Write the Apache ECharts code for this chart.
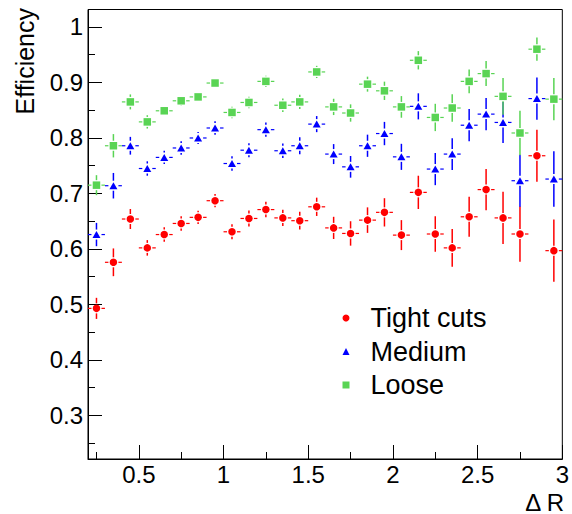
<!DOCTYPE html>
<html>
<head>
<meta charset="utf-8">
<script src="https://cdn.jsdelivr.net/npm/echarts@6/dist/echarts.min.js"></script>
<style>
  html, body { margin: 0; padding: 0; background: #fff; }
  #chart { width: 572px; height: 514px; }
</style>
</head>
<body>
<div id="chart"></div>
<script>
// Bin centres in ΔR (bins are 0.1 wide)
const deltaR = [0.25, 0.35, 0.45, 0.55, 0.65, 0.75, 0.85, 0.95, 1.05, 1.15, 1.25, 1.35, 1.45, 1.55,
                1.65, 1.75, 1.85, 1.95, 2.05, 2.15, 2.25, 2.35, 2.45, 2.55, 2.65, 2.75, 2.85, 2.95];
const binHalfWidth = 0.05;

// Efficiency and its uncertainty for each selection
const tightEff = [0.493, 0.576, 0.654, 0.602, 0.626, 0.646, 0.657, 0.687, 0.631, 0.655, 0.671, 0.656, 0.651, 0.676,
                  0.638, 0.628, 0.652, 0.666, 0.625, 0.702, 0.627, 0.602, 0.658, 0.707, 0.656, 0.627, 0.768, 0.597];
const tightErr = [0.019, 0.025, 0.018, 0.014, 0.013, 0.013, 0.012, 0.012, 0.0135, 0.0145, 0.014, 0.0145, 0.016, 0.0165,
                  0.020, 0.022, 0.023, 0.0255, 0.027, 0.030, 0.032, 0.034, 0.036, 0.037, 0.047, 0.050, 0.047, 0.056];

const mediumEff = [0.626, 0.714, 0.786, 0.745, 0.765, 0.782, 0.800, 0.818, 0.754, 0.778, 0.815, 0.777, 0.786, 0.825,
                   0.771, 0.748, 0.786, 0.808, 0.766, 0.857, 0.744, 0.771, 0.823, 0.843, 0.828, 0.723, 0.871, 0.726];
const mediumErr = [0.021, 0.023, 0.016, 0.013, 0.012, 0.012, 0.011, 0.012, 0.013, 0.0125, 0.013, 0.013, 0.0155, 0.0145,
                   0.018, 0.0195, 0.020, 0.021, 0.0235, 0.0235, 0.029, 0.0285, 0.029, 0.029, 0.037, 0.047, 0.038, 0.050];

const looseEff = [0.715, 0.786, 0.865, 0.829, 0.849, 0.867, 0.874, 0.899, 0.846, 0.864, 0.902, 0.859, 0.865, 0.919,
                  0.856, 0.845, 0.897, 0.885, 0.856, 0.940, 0.837, 0.854, 0.902, 0.916, 0.875, 0.809, 0.960, 0.870];
const looseErr = [0.018, 0.021, 0.0135, 0.012, 0.009, 0.0093, 0.0075, 0.009, 0.0105, 0.0105, 0.010, 0.012, 0.013, 0.011,
                  0.0147, 0.0156, 0.0135, 0.0165, 0.0195, 0.0165, 0.0246, 0.0246, 0.0216, 0.0225, 0.033, 0.040, 0.021, 0.038];

// Axis ticks
const xMajorTicks = [0.5, 1, 1.5, 2, 2.5, 3];
const xMinorTicks = [0.25, 0.75, 1.25, 1.75, 2.25, 2.75];
const yMajorTicks = [0.3, 0.4, 0.5, 0.6, 0.7, 0.8, 0.9, 1];
const yMinorTicks = [0.25, 0.35, 0.45, 0.55, 0.65, 0.75, 0.85, 0.95];

const X_MIN = 0.2, X_MAX = 3;
const Y_MIN = 0.2216, Y_MAX = 1.0315;

const FONT = '"Liberation Sans", Arial, Helvetica, sans-serif';

const selections = [
  { name: 'Tight cuts', eff: tightEff, err: tightErr, color: '#ff0000', symbol: 'circle', size: 7.5 },
  { name: 'Medium',     eff: mediumEff, err: mediumErr, color: '#0000ff', symbol: 'triangle', size: [8, 7] },
  { name: 'Loose',      eff: looseEff, err: looseErr, color: '#59d454', symbol: 'rect', size: 7.5 }
];

// Error bars drawn outside the marker, as in a HEP-style histogram
function errorBarRenderer(color) {
  const gap = 5;
  return function (params, api) {
    const x = api.value(0), y = api.value(1), e = api.value(2);
    const c = api.coord([x, y]);
    const top = api.coord([x, y + e]);
    const bot = api.coord([x, y - e]);
    const lft = api.coord([x - binHalfWidth, y]);
    const rgt = api.coord([x + binHalfWidth, y]);
    const children = [];
    const vStyle = { stroke: color, lineWidth: 1.5 };
    const hStyle = { stroke: color, lineWidth: 1.2 };
    if (c[1] - top[1] > gap) {
      children.push({ type: 'line', shape: { x1: c[0], y1: c[1] - gap, x2: c[0], y2: top[1] }, style: vStyle });
    }
    if (bot[1] - c[1] > gap) {
      children.push({ type: 'line', shape: { x1: c[0], y1: c[1] + gap, x2: c[0], y2: bot[1] }, style: vStyle });
    }
    if (c[0] - lft[0] > gap) {
      children.push({ type: 'line', shape: { x1: c[0] - gap, y1: c[1], x2: lft[0], y2: c[1] }, style: hStyle });
    }
    if (rgt[0] - c[0] > gap) {
      children.push({ type: 'line', shape: { x1: c[0] + gap, y1: c[1], x2: rgt[0], y2: c[1] }, style: hStyle });
    }
    return { type: 'group', children: children };
  };
}

const series = [];
selections.forEach(function (s) {
  const pts = deltaR.map(function (x, i) { return [x, s.eff[i], s.err[i]]; });
  series.push({
    type: 'custom',
    name: s.name + ' errors',
    renderItem: errorBarRenderer(s.color),
    data: pts,
    encode: { x: 0, y: 1 },
    silent: true,
    z: 2
  });
});
selections.forEach(function (s) {
  series.push({
    type: 'scatter',
    name: s.name,
    data: deltaR.map(function (x, i) { return [x, s.eff[i]]; }),
    symbol: s.symbol,
    symbolSize: s.size,
    itemStyle: { color: s.color, opacity: 1 },
    z: 3
  });
});

const chart = echarts.init(document.getElementById('chart'), null, { renderer: 'svg' });

const labelFmt = function (v) { return String(+(+v).toFixed(2)); };

chart.setOption({
  animation: false,
  backgroundColor: '#ffffff',
  textStyle: { fontFamily: FONT },
  grid: {
    left: 88, right: 6, top: 9.5, bottom: 55,
    show: true, borderColor: '#000', borderWidth: 1, backgroundColor: 'transparent'
  },
  xAxis: [
    {
      type: 'value', min: X_MIN, max: X_MAX,
      axisLine: { show: true, lineStyle: { color: '#000', width: 1 } },
      axisTick: { show: true, inside: true, length: 14, customValues: xMajorTicks, lineStyle: { color: '#000' } },
      axisLabel: { show: true, customValues: xMajorTicks, formatter: labelFmt, margin: 3,
                   color: '#000', fontSize: 24, fontFamily: FONT },
      splitLine: { show: false }
    },
    {
      type: 'value', min: X_MIN, max: X_MAX, position: 'bottom',
      axisLine: { show: false },
      axisTick: { show: true, inside: true, length: 7, customValues: xMinorTicks, lineStyle: { color: '#000' } },
      axisLabel: { show: false },
      splitLine: { show: false }
    }
  ],
  yAxis: [
    {
      type: 'value', min: Y_MIN, max: Y_MAX,
      axisLine: { show: true, lineStyle: { color: '#000', width: 1 } },
      axisTick: { show: true, inside: true, length: 14, customValues: yMajorTicks, lineStyle: { color: '#000' } },
      axisLabel: { show: true, customValues: yMajorTicks, formatter: labelFmt, margin: 5,
                   color: '#000', fontSize: 24, fontFamily: FONT },
      splitLine: { show: false }
    },
    {
      type: 'value', min: Y_MIN, max: Y_MAX, position: 'left',
      axisLine: { show: false },
      axisTick: { show: true, inside: true, length: 7, customValues: yMinorTicks, lineStyle: { color: '#000' } },
      axisLabel: { show: false },
      splitLine: { show: false }
    }
  ],
  legend: {
    data: selections.map(function (s) { return s.name; }),
    orient: 'vertical',
    left: 337.5, top: 299.5,
    itemWidth: 7, itemHeight: 7,
    itemGap: 6.5,
    selectedMode: false,
    textStyle: { color: '#000', fontSize: 27, fontFamily: FONT, lineHeight: 27, padding: [0, 0, 0, 16] }
  },
  graphic: [
    {
      type: 'text', x: 12, y: 8, rotation: Math.PI / 2,
      style: { text: 'Efficiency', fill: '#000', font: '25px ' + FONT, textAlign: 'right', textVerticalAlign: 'top' }
    },
    {
      type: 'text', x: 564, y: 514,
      style: { text: 'Δ R', fill: '#000', font: '24px ' + FONT, textAlign: 'right', textVerticalAlign: 'bottom' }
    }
  ],
  series: series
});
</script>
</body>
</html>
